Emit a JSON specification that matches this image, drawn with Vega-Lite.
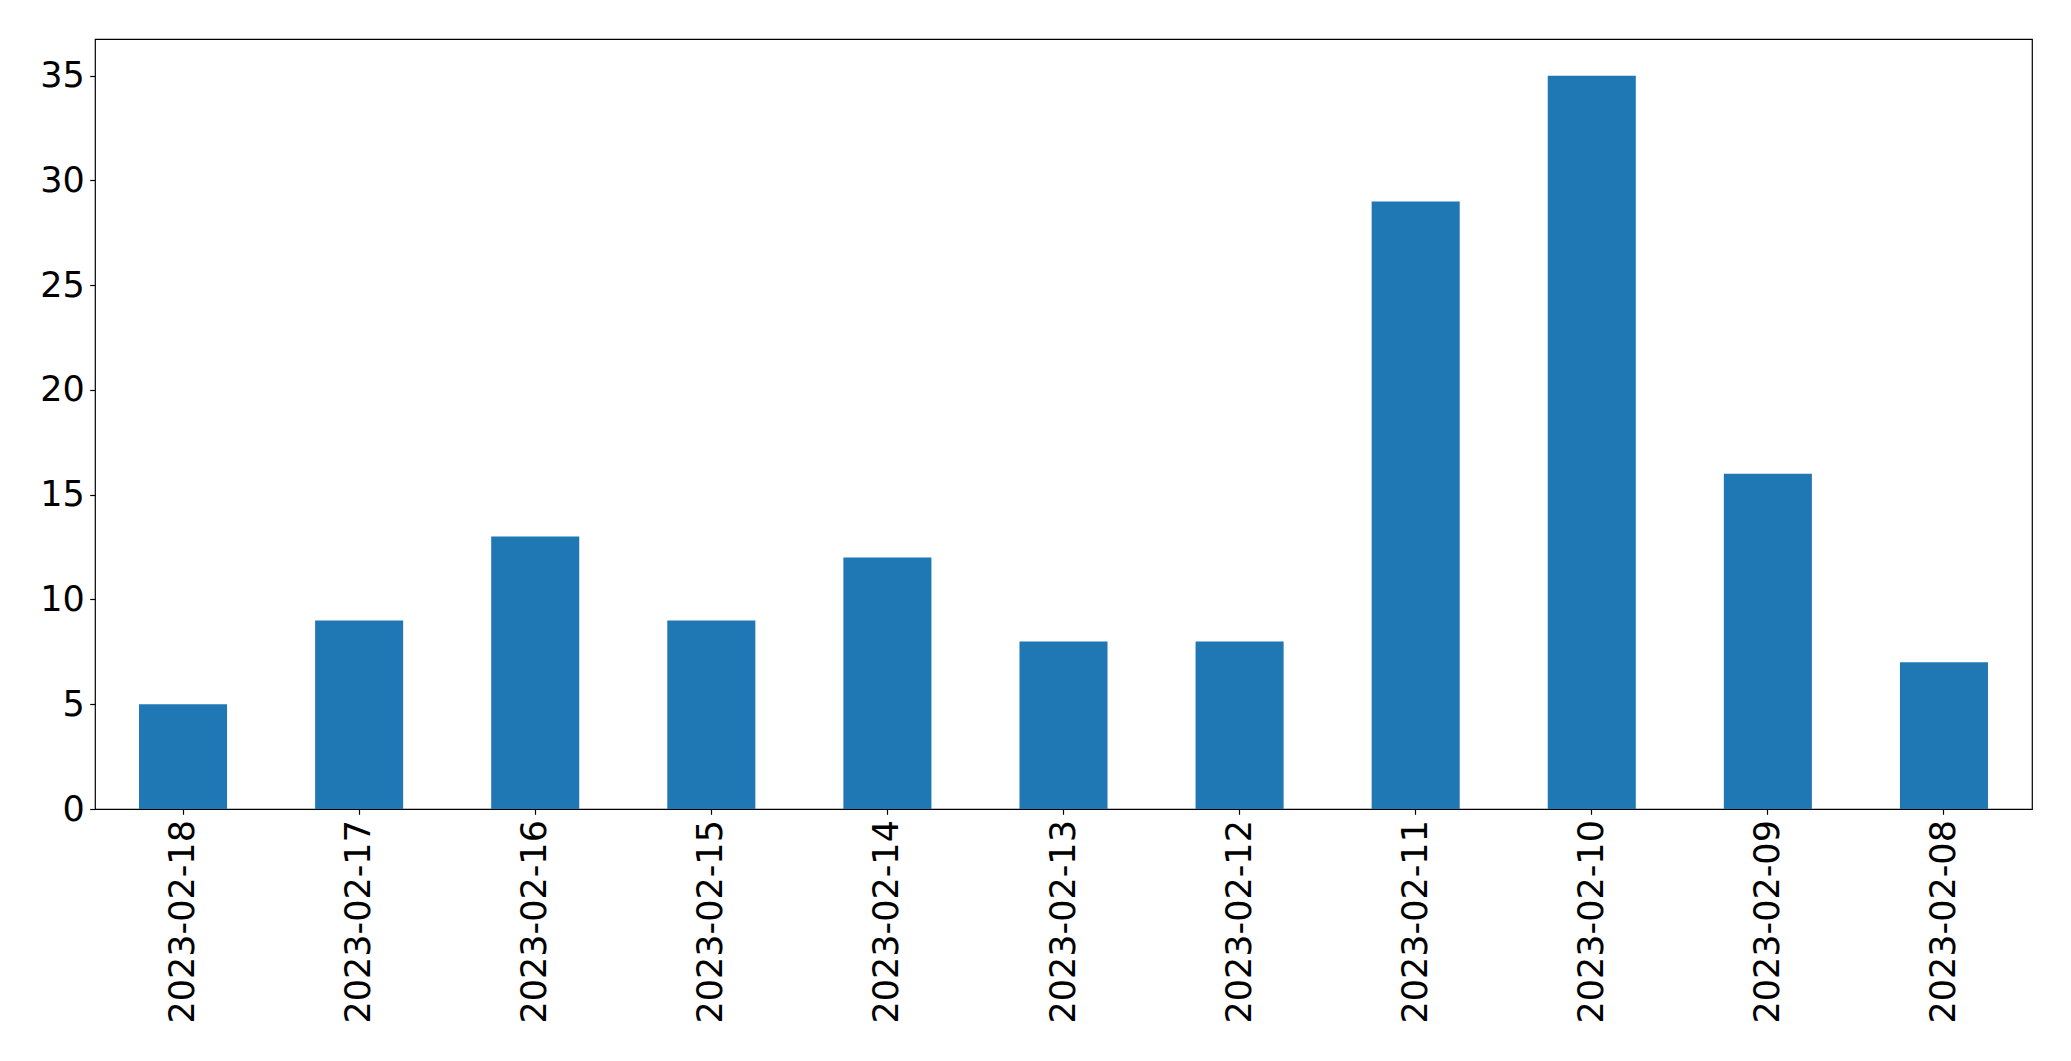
{
  "$schema": "https://vega.github.io/schema/vega-lite/v6.json",
  "width": 1937,
  "height": 770,
  "autosize": {"type": "none"},
  "padding": {"left": 95, "top": 39, "right": 39, "bottom": 252},
  "background": "white",
  "config": {
    "view": {"stroke": "black", "strokeWidth": 1.2},
    "axis": {
      "labelFont": "DejaVu Sans",
      "labelFontSize": 35,
      "labelColor": "black",
      "labelLimit": 0,
      "tickColor": "black",
      "tickWidth": 1.2,
      "tickSize": 5.3,
      "labelPadding": 5.3,
      "domain": false,
      "grid": false,
      "title": null
    }
  },
  "data": {
    "values": [
      {"date": "2023-02-18", "count": 5},
      {"date": "2023-02-17", "count": 9},
      {"date": "2023-02-16", "count": 13},
      {"date": "2023-02-15", "count": 9},
      {"date": "2023-02-14", "count": 12},
      {"date": "2023-02-13", "count": 8},
      {"date": "2023-02-12", "count": 8},
      {"date": "2023-02-11", "count": 29},
      {"date": "2023-02-10", "count": 35},
      {"date": "2023-02-09", "count": 16},
      {"date": "2023-02-08", "count": 7}
    ]
  },
  "mark": {"type": "bar", "color": "#1f77b4"},
  "encoding": {
    "x": {
      "field": "date",
      "type": "nominal",
      "sort": null,
      "scale": {"paddingInner": 0.5, "paddingOuter": 0.25},
      "axis": {"labelAngle": -90, "labelAlign": "right", "labelBaseline": "middle"}
    },
    "y": {
      "field": "count",
      "type": "quantitative",
      "scale": {"domain": [0, 36.75], "nice": false, "zero": true},
      "axis": {"values": [0, 5, 10, 15, 20, 25, 30, 35]}
    }
  }
}
